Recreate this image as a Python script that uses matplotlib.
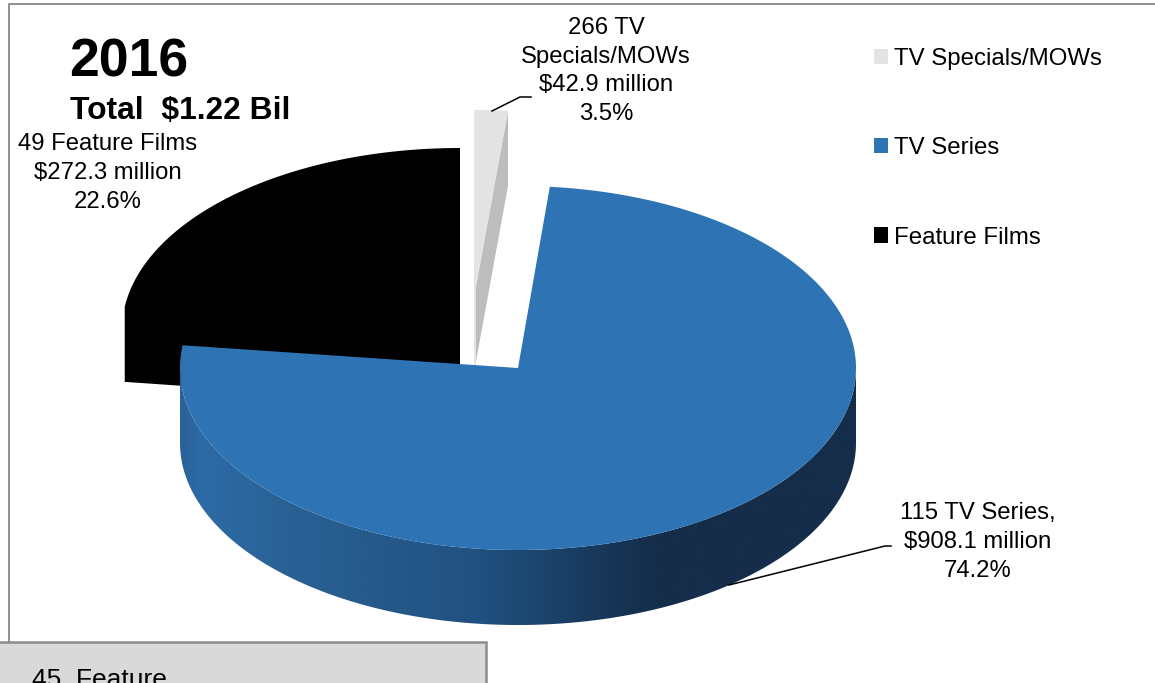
import numpy as np
import matplotlib
matplotlib.use("Agg")
import matplotlib.pyplot as plt
from matplotlib.patches import Polygon, Rectangle, Patch
from matplotlib.colors import LinearSegmentedColormap

plt.rcParams['font.family'] = ['Liberation Sans', 'DejaVu Sans']

# ---- data
categories = ["TV Specials/MOWs", "TV Series", "Feature Films"]
values = [42.9, 908.1, 272.3]
slice_labels = ["266 TV\nSpecials/MOWs\n$42.9 million\n3.5%",
                "115 TV Series,\n$908.1 million\n74.2%",
                "49 Feature Films\n$272.3 million\n22.6%"]
title_year = "2016"
title_total = "Total  $1.22 Bil"
box_text = "45  Feature"

# ---- style / layout (pixel space)
colors = ["#e3e3e3", "#2e74b5", "#000000"]
cut_gray = "#bdbdbd"
centers = [(475, 292), (518, 368), (460, 330)]
start_deg = [0.0, 5.4, 277.3]          # clockwise from north
sweep_warp = [0.444, 1.017, 1.032]     # perspective distortion of the angles
RX, RY, DEPTH = 338, 182, 75

W, H = 1155, 683
fig = plt.figure(figsize=(W / 100, H / 100), dpi=100, facecolor="white")
ax = fig.add_axes([0, 0, 1, 1])
ax.set_xlim(0, W)
ax.set_ylim(H, 0)
ax.axis("off")

total = sum(values)
sweeps = [v / total * 360 * k for v, k in zip(values, sweep_warp)]


def rim(center, a0, a1, n=240, drop=0):
    t = np.radians(np.linspace(a0, a1, n))
    return np.column_stack([center[0] + RX * np.sin(t),
                            center[1] - RY * np.cos(t) + drop])


# frame
ax.plot([9, 9, W], [642, 4, 4], color="#8f8f8f", lw=1.4, zorder=0)

# Feature Films (black): walls and top merge into one silhouette
c = centers[2]
a0, a1 = start_deg[2], start_deg[2] + sweeps[2]
top = rim(c, a0, a1)
ax.add_patch(Polygon(np.vstack([top, [[top[-1][0], c[1] + DEPTH]],
                                top[:1] + [0, DEPTH]]),
                     fc=colors[2], ec="none", zorder=1))

# TV Specials/MOWs
c = centers[0]
a0, a1 = start_deg[0], start_deg[0] + sweeps[0]
top = rim(c, a0, a1, n=20)
end = top[-1]
ax.add_patch(Polygon([end, end + [0, DEPTH], (c[0], c[1] + DEPTH), c],
                     fc=cut_gray, ec="none", zorder=2))
ax.add_patch(Polygon(np.vstack([[c], top]), fc=colors[0], ec="none", zorder=3))
ax.add_patch(Rectangle((c[0] - 1, top[0][1]), 2, DEPTH + c[1] - top[0][1],
                       fc=colors[0], ec="none", zorder=3))

# TV Series: gradient wall + top
c = centers[1]
a0, a1 = start_deg[1], start_deg[1] + sweeps[1]
arc_vis = rim(c, 90, 270)
wall_poly = np.vstack([arc_vis, (arc_vis + [0, DEPTH])[::-1]])
wall_patch = Polygon(wall_poly, fc="none", ec="none", zorder=4)
ax.add_patch(wall_patch)
wall_cmap = LinearSegmentedColormap.from_list(
    "wall", [(0.0, "#142d4a"), (0.30, "#142d4a"), (0.55, "#20507f"),
             (0.85, "#2a6296"), (0.97, "#2d6ba6"), (1.0, "#2a6299")])
grad = np.linspace(0, 1, 512)[None, :]
im = ax.imshow(grad[:, ::-1], cmap=wall_cmap, aspect="auto", zorder=4,
               extent=(c[0] - RX, c[0] + RX, c[1] + RY + DEPTH, c[1]),
               interpolation="bilinear")
im.set_clip_path(wall_patch)
ax.set_xlim(0, W)
ax.set_ylim(H, 0)
top = rim(c, a0, a1, n=500)
ax.add_patch(Polygon(np.vstack([[c], top]), fc=colors[1], ec="none", zorder=5))

# leaders
ax.plot([492, 520, 531], [111, 97, 97], color="black", lw=1.1, zorder=6)
ax.plot([729, 885, 891], [585, 546, 546], color="black", lw=1.1, zorder=6)

# labels
FS = 17.2
LS = 1.39
ax.text(606, 71, slice_labels[0], ha="center", va="center", fontsize=FS,
        linespacing=LS, zorder=7)
ax.text(978, 542, slice_labels[1], ha="center", va="center", fontsize=FS,
        linespacing=LS, zorder=7)
ax.text(107.5, 173, slice_labels[2], ha="center", va="center", fontsize=FS,
        linespacing=LS, zorder=7)

# titles
ax.text(69, 62.5, title_year, ha="left", va="center", fontsize=38.5,
        fontweight="bold", zorder=7)
ax.text(69.5, 110.5, title_total, ha="left", va="center", fontsize=22.9,
        fontweight="bold", zorder=7)

# legend
handles = [Patch(fc=col, ec="none", label=cat) for col, cat in zip(colors, categories)]
ax.legend(handles=handles, loc="upper left", bbox_to_anchor=(874 / W, 1 - 48 / H),
          frameon=False, fontsize=17.3, borderpad=0, borderaxespad=0,
          handlelength=0.6, handleheight=0.6, handletextpad=0.24,
          labelspacing=2.8)

# bottom overlapping box
ax.add_patch(Rectangle((-5, 642), 491, 60, fc="#d9d9d9", ec="#8c8c8c", lw=1.8, zorder=8))
ax.text(32, 687, box_text, ha="left", va="baseline", fontsize=19, zorder=9, clip_on=True)

fig.savefig("out.png", dpi=100, facecolor="white")
